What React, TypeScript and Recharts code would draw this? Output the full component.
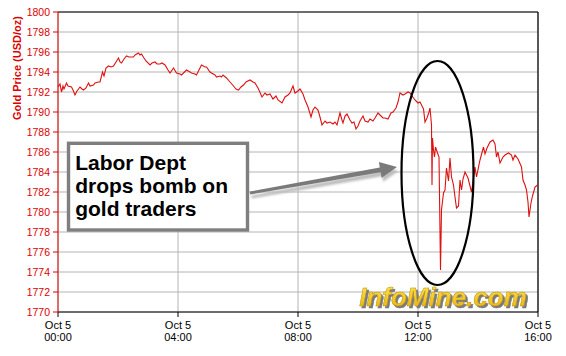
import React from "react";
import {
  LineChart,
  Line,
  XAxis,
  YAxis,
  CartesianGrid,
  ReferenceLine,
  ReferenceArea,
  ReferenceDot,
} from "recharts";

// minutes since Oct 5 00:00
const minutes = [
  0, 4, 7, 10, 12, 17, 20, 27, 30, 34, 38, 44, 48, 51, 56, 61, 64, 71, 74, 81,
  84, 89, 92, 96, 101, 106, 111, 116, 121, 124, 127, 132, 137, 142, 151, 154, 161, 164, 167, 172,
  176, 184, 188, 194, 198, 204, 208, 214, 220, 224, 231, 237, 244, 247, 257, 264, 267, 274, 277, 284,
  287, 294, 297, 304, 307, 314, 317, 324, 327, 330, 337, 344, 351, 356, 361, 366, 371, 376, 384, 390,
  394, 400, 408, 414, 418, 424, 430, 436, 440, 448, 454, 460, 464, 470, 474, 480, 484, 490, 494, 500,
  506, 510, 514, 520, 524, 528, 534, 538, 544, 550, 554, 558, 564, 568, 570, 574, 578, 584, 588, 592,
  596, 600, 604, 610, 614, 620, 624, 630, 634, 640, 644, 650, 654, 660, 666, 670, 676, 680, 684, 690,
  694, 700, 704, 708, 714, 720, 724, 728, 731, 734, 738, 742, 744, 747, 748, 749, 751, 753, 755, 759,
  762, 765, 767, 771, 774, 777, 781, 784, 787, 791, 794, 797, 801, 804, 807, 810, 814, 820, 827, 830,
  834, 837, 844, 851, 854, 858, 864, 870, 874, 877, 880, 884, 890, 894, 901, 904, 907, 910, 914, 920,
  927, 930, 934, 937, 940, 942, 946, 949, 954, 959,
];

// gold price, USD/oz
const prices = [
  1792.5, 1792.8, 1792.0, 1792.6, 1792.3, 1792.9, 1792.6, 1792.5, 1792.2, 1791.7, 1792.1, 1792.5, 1792.3, 1792.2, 1792.4, 1792.9, 1792.6, 1792.7, 1792.9, 1793.0,
  1793.0, 1794.0, 1793.6, 1794.4, 1794.6, 1794.5, 1794.6, 1795.0, 1795.4, 1795.0, 1794.9, 1795.3, 1795.6, 1795.5, 1795.5, 1795.7, 1795.9, 1795.7, 1795.8, 1795.4,
  1795.1, 1794.7, 1794.9, 1795.0, 1794.8, 1794.8, 1794.9, 1794.7, 1794.2, 1793.9, 1794.4, 1793.9, 1793.8, 1793.7, 1794.2, 1794.0, 1793.9, 1793.8, 1793.7, 1794.4,
  1794.7, 1794.5, 1794.5, 1794.0, 1793.9, 1793.7, 1793.5, 1793.6, 1793.5, 1793.7, 1793.4, 1793.0, 1792.6, 1792.3, 1792.2, 1792.5, 1792.7, 1793.0, 1793.2, 1793.0,
  1792.9, 1792.4, 1791.5, 1791.9, 1791.7, 1791.8, 1791.3, 1791.6, 1791.2, 1790.9, 1791.5, 1791.7, 1791.9, 1792.6, 1791.9, 1792.1, 1792.3, 1791.8, 1791.2, 1790.5,
  1789.5, 1790.2, 1790.5, 1790.2, 1789.5, 1788.7, 1789.1, 1788.9, 1789.0, 1788.8, 1789.0, 1788.7, 1789.9, 1789.2, 1788.9, 1789.6, 1789.8, 1789.2, 1788.9, 1789.0,
  1788.3, 1788.6, 1789.1, 1789.6, 1789.1, 1789.0, 1789.3, 1789.1, 1789.4, 1789.9, 1789.7, 1789.4, 1789.4, 1789.3, 1789.9, 1790.0, 1790.4, 1791.0, 1791.9, 1791.7,
  1791.8, 1792.0, 1791.9, 1791.6, 1791.2, 1790.9, 1791.0, 1790.6, 1790.3, 1789.0, 1789.4, 1790.0, 1790.4, 1788.7, 1782.7, 1787.4, 1786.2, 1785.5, 1786.5, 1785.9,
  1785.5, 1774.2, 1780.2, 1781.9, 1782.2, 1784.4, 1783.1, 1785.4, 1783.5, 1782.7, 1781.5, 1780.4, 1780.6, 1783.2, 1782.2, 1783.3, 1784.0, 1783.4, 1782.0, 1783.0,
  1784.5, 1783.5, 1785.2, 1786.5, 1785.8, 1786.4, 1787.0, 1787.2, 1786.8, 1785.5, 1786.0, 1784.9, 1785.5, 1785.7, 1785.9, 1785.8, 1785.7, 1785.2, 1785.7, 1785.3,
  1784.5, 1783.2, 1782.7, 1782.2, 1781.0, 1779.5, 1780.9, 1781.6, 1782.5, 1782.7,
];

const xTicks = [0, 240, 480, 720, 960];
const yTicks = [1770, 1772, 1774, 1776, 1778, 1780, 1782, 1784, 1786, 1788, 1790, 1792, 1794, 1796, 1798, 1800];
const dayLabel = "Oct 5";
const calloutLines = ["Labor Dept", "drops bomb on", "gold traders"];

const data = minutes.map((m, i) => ({ m, price: prices[i] }));

const RED = "#dd0000";
const FONT = "Arial, Liberation Sans, sans-serif";

const XTick = (props: any) => {
  const { x, y, payload } = props;
  const hh = String(Math.floor(payload.value / 60)).padStart(2, "0");
  return (
    <text textAnchor="middle" fontSize={11} fontFamily={FONT} fill="#000">
      <tspan x={x} y={y + 9.5}>{dayLabel}</tspan>
      <tspan x={x} y={y + 22}>{`${hh}:00`}</tspan>
    </text>
  );
};

const YLabel = () => (
  <text
    transform="translate(17,68) rotate(-90)"
    textAnchor="middle"
    dominantBaseline="central"
    fontSize={11}
    fontWeight="bold"
    fontFamily={FONT}
    fill={RED}
  >
    Gold Price (USD/oz)
  </text>
);

const CalloutBox = (props: any) => {
  const { x, y, width, height } = props;
  return (
    <g>
      <rect x={x} y={y} width={width} height={height} fill="#fff" stroke="#7f7f7f" strokeWidth={3.4} />
      {calloutLines.map((t, i) => (
        <text key={t} x={x + 6.7} y={y + 26.7 + i * 23} fontSize={21} fontWeight="bold" fontFamily={FONT} fill="#000">
          {t}
        </text>
      ))}
    </g>
  );
};

const Arrow = (props: any) => {
  const { x1, y1, x2, y2 } = props;
  const dx = x2 - x1;
  const dy = y2 - y1;
  const len = Math.sqrt(dx * dx + dy * dy);
  const ux = dx / len;
  const uy = dy / len;
  const nx = -uy;
  const ny = ux;
  const headLen = 17;
  const headHalf = 8;
  const bx = x2 - ux * headLen;
  const by = y2 - uy * headLen;
  const shape = (ox: number, oy: number) =>
    [
      [x1 + nx * 1.4 + ox, y1 + ny * 1.4 + oy],
      [bx + nx * 2.4 + ox, by + ny * 2.4 + oy],
      [bx + nx * headHalf + ox, by + ny * headHalf + oy],
      [x2 + ox, y2 + oy],
      [bx - nx * headHalf + ox, by - ny * headHalf + oy],
      [bx - nx * 2.4 + ox, by - ny * 2.4 + oy],
      [x1 - nx * 1.4 + ox, y1 - ny * 1.4 + oy],
    ]
      .map((p) => p.join(","))
      .join(" ");
  return (
    <g>
      <defs>
        <filter id="arrowBlur" x="-10%" y="-50%" width="120%" height="200%">
          <feGaussianBlur stdDeviation="1.2" />
        </filter>
      </defs>
      <polygon points={shape(1.5, 4)} fill="#bdbdbd" filter="url(#arrowBlur)" />
      <polygon points={shape(0, 0)} fill="#7a7a7a" />
    </g>
  );
};

const Oval = (props: any) => (
  <ellipse cx={props.cx} cy={props.cy} rx={36} ry={112} fill="none" stroke="#000" strokeWidth={2.2} />
);

const Logo = (props: any) => {
  const { cx, cy } = props;
  return (
    <g>
      <defs>
        <linearGradient id="logoGrad" x1="0" y1="0" x2="0" y2="1">
          <stop offset="0%" stopColor="#ffe65a" />
          <stop offset="100%" stopColor="#e8b000" />
        </linearGradient>
        <filter id="logoShadow" x="-5%" y="-30%" width="110%" height="160%">
          <feDropShadow dx="2" dy="2" stdDeviation="0.4" floodColor="#7a7a7a" floodOpacity="1" />
        </filter>
      </defs>
      <text
        x={cx}
        y={cy}
        fontSize={26}
        fontWeight="bold"
        fontStyle="italic"
        fontFamily={FONT}
        textAnchor="middle"
        fill="url(#logoGrad)"
        stroke="#b89000"
        strokeWidth={0.5}
        filter="url(#logoShadow)"
      >
        InfoMine.com
      </text>
    </g>
  );
};

export default function App() {
  return (
    <div style={{ position: "absolute", left: 0, top: 0, width: 566, height: 356, background: "#fff" }}>
      <LineChart width={566} height={356} data={data} margin={{ top: 12, right: 28, bottom: 4, left: 0 }}>
        <CartesianGrid stroke="#b4b4b4" strokeWidth={1} />
        <XAxis
          dataKey="m"
          type="number"
          domain={[0, 960]}
          ticks={xTicks}
          interval={0}
          height={40}
          stroke="#000"
          tickSize={5}
          tickMargin={2}
          tick={<XTick />}
          tickLine={{ stroke: "#000" }}
        />
        <YAxis
          type="number"
          domain={[1770, 1800]}
          ticks={yTicks}
          interval={0}
          width={58}
          stroke={RED}
          tickSize={5}
          tickMargin={3}
          tick={{ fill: RED, fontSize: 10.5, fontFamily: FONT }}
          tickLine={{ stroke: RED }}
          label={<YLabel />}
        />
        <ReferenceLine y={1800} stroke="#000" strokeWidth={1.2} />
        <ReferenceLine x={960} stroke="#000" strokeWidth={1.2} />
        <Line type="linear" dataKey="price" stroke="#dd1111" strokeWidth={1.1} dot={false} isAnimationActive={false} />
        <ReferenceArea x1={21} x2={379} y1={1778.2} y2={1786.87} shape={<CalloutBox />} ifOverflow="visible" />
        <ReferenceLine
          segment={[
            { x: 384, y: 1781.9 },
            { x: 678, y: 1784.5 },
          ]}
          shape={<Arrow />}
          ifOverflow="visible"
        />
        <ReferenceDot x={759} y={1783.9} shape={<Oval />} ifOverflow="visible" />
        <ReferenceDot x={770} y={1770.6} shape={<Logo />} ifOverflow="visible" />
      </LineChart>
    </div>
  );
}
